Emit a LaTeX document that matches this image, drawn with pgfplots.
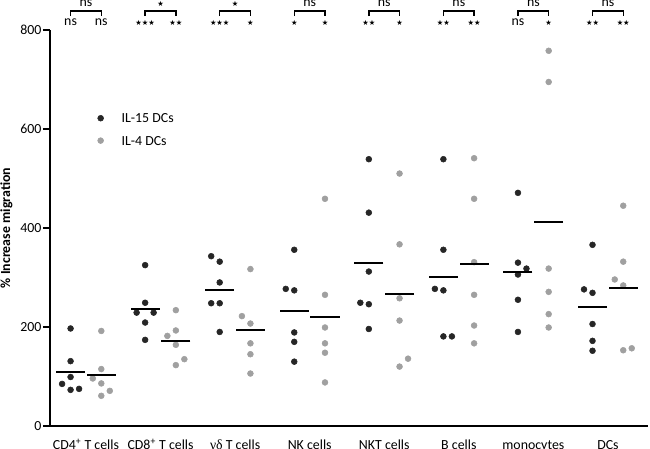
\documentclass[border=0pt]{standalone}
\usepackage{fontspec}
\setmainfont{Carlito}
\newfontfamily\grk{Liberation Serif}
\newfontfamily\djv{DejaVu Sans}
\usepackage{pgfplots}
\pgfplotsset{compat=1.18}
\definecolor{dk}{HTML}{262626}
\definecolor{gy}{HTML}{A0A0A0}
\newcommand{\fs}{\fontsize{10.4}{12}\selectfont}
\newcommand{\st}[1]{{\djv\fontsize{5.4}{6}\selectfont #1}}
\begin{document}
\begin{tikzpicture}
\begin{axis}[
  at={(37.5pt,17.25pt)}, anchor=south west,
  scale only axis, width=448.5pt, height=297pt,
  xmin=-0.483, xmax=7.537, ymin=0, ymax=800,
  axis x line=bottom, axis y line=left,
  axis line style={-, line width=1.5pt, black},
  xtick={0,1,2,3,4,5,6,7},
  xticklabels={CD4\textsuperscript{+} T cells, CD8\textsuperscript{+} T cells, {{\grk γδ} T cells}, NK cells, NKT cells, B cells, monocytes, DCs},
  x tick style={draw=none},
  xticklabel style={anchor=base, yshift=-12.5pt, font=\fs},
  ytick={0,200,400,600,800},
  y tick style={line width=1.5pt, black},
  major tick length=5.25pt, tick align=outside,
  yticklabel style={font=\fs, inner sep=1pt},
  /pgf/number format/assume math mode=true,
  ylabel={\bfseries \% Increase migration},
  ylabel style={font=\fs, anchor=center, at={(axis description cs:-0.0727,0.5)}},
  clip=false,
  legend style={draw=none, fill=none, inner sep=0pt, outer sep=0pt, font=\fs,
    at={(0.0798,0.789)}, anchor=north west, row sep=9.8pt,
    nodes={inner sep=0pt, text height=7pt, text depth=0pt},
    /tikz/every odd column/.append style={column sep=13.5pt}},
  legend cell align=left,
  legend image code/.code={\draw[#1] plot coordinates {(0pt,0pt)};},
]
% IL-15 DCs
\addplot[only marks, mark=*, mark size=2.2pt, color=dk] coordinates {
(-0.207,197) (-0.207,131) (-0.207,99) (-0.321,85) (-0.207,73) (-0.093,75)
(0.793,325) (0.793,249) (0.679,229) (0.907,229) (0.793,209) (0.793,174)
(1.679,343) (1.793,332) (1.793,290) (1.679,248) (1.793,248) (1.793,190)
(2.793,356) (2.679,277) (2.793,274) (2.793,189) (2.793,170) (2.793,130)
(3.793,539) (3.793,431) (3.793,312) (3.679,249) (3.793,246) (3.793,196)
(4.793,539) (4.793,356) (4.679,277) (4.793,274) (4.793,181) (4.907,181)
(5.793,471) (5.793,330) (5.907,318) (5.793,306) (5.793,255) (5.793,190)
(6.793,366) (6.679,276) (6.793,269) (6.793,206) (6.793,172) (6.793,152)
};
\addlegendentry{IL-15 DCs}
% IL-4 DCs
\addplot[only marks, mark=*, mark size=2.2pt, color=gy] coordinates {
(0.205,192) (0.205,115) (0.091,96) (0.205,86) (0.319,71) (0.205,61)
(1.205,234) (1.205,193) (1.091,182) (1.205,164) (1.319,135) (1.205,123)
(2.205,317) (2.091,222) (2.205,207) (2.205,167) (2.205,145) (2.205,106)
(3.205,459) (3.205,265) (3.205,199) (3.205,167) (3.205,148) (3.205,88)
(4.205,510) (4.205,367) (4.205,258) (4.205,213) (4.319,136) (4.205,120)
(5.205,541) (5.205,459) (5.205,331) (5.205,265) (5.205,203) (5.205,167)
(6.205,758) (6.205,695) (6.205,318) (6.205,271) (6.205,226) (6.205,199)
(7.205,445) (7.205,332) (7.091,296) (7.205,284) (7.205,153) (7.319,157)
};
\addlegendentry{IL-4 DCs}
% means
\addplot[forget plot, only marks, mark=-, mark size=10.9pt, mark options={line width=1.5pt, black}] coordinates {
(-0.207,110) (0.793,236) (1.793,275) (2.793,233) (3.793,329) (4.793,302) (5.793,312) (6.793,241)
(0.205,104) (1.205,172) (2.205,193) (3.205,221) (4.205,267) (5.205,327) (6.205,412) (7.205,278)
};
% significance brackets
\pgfplotsinvokeforeach{-0.207,0.793,1.793,2.793,3.793,4.793,5.793,6.793}{
  \draw[line width=1.1pt, black] (axis cs:#1,828) -- (axis cs:#1,838.4) -- (axis cs:#1+0.412,838.4) -- (axis cs:#1+0.412,828);
}
\node[font=\fs, anchor=base, inner sep=0pt] at (axis cs:-0.207,810) {ns};
\node[font=\fs, anchor=base, inner sep=0pt] at (axis cs:0.205,810) {ns};
\node[font=\fs, anchor=base, inner sep=0pt] at (axis cs:0,847) {ns};
\node[font=\fs, anchor=base, inner sep=0pt] at (axis cs:0.793,810) {\st{★★★}};
\node[font=\fs, anchor=base, inner sep=0pt] at (axis cs:1.205,810) {\st{★★}};
\node[font=\fs, anchor=base, inner sep=0pt] at (axis cs:1,847) {\st{★}};
\node[font=\fs, anchor=base, inner sep=0pt] at (axis cs:1.793,810) {\st{★★★}};
\node[font=\fs, anchor=base, inner sep=0pt] at (axis cs:2.205,810) {\st{★}};
\node[font=\fs, anchor=base, inner sep=0pt] at (axis cs:2,847) {\st{★}};
\node[font=\fs, anchor=base, inner sep=0pt] at (axis cs:2.793,810) {\st{★}};
\node[font=\fs, anchor=base, inner sep=0pt] at (axis cs:3.205,810) {\st{★}};
\node[font=\fs, anchor=base, inner sep=0pt] at (axis cs:3,847) {ns};
\node[font=\fs, anchor=base, inner sep=0pt] at (axis cs:3.793,810) {\st{★★}};
\node[font=\fs, anchor=base, inner sep=0pt] at (axis cs:4.205,810) {\st{★}};
\node[font=\fs, anchor=base, inner sep=0pt] at (axis cs:4,847) {ns};
\node[font=\fs, anchor=base, inner sep=0pt] at (axis cs:4.793,810) {\st{★★}};
\node[font=\fs, anchor=base, inner sep=0pt] at (axis cs:5.205,810) {\st{★★}};
\node[font=\fs, anchor=base, inner sep=0pt] at (axis cs:5,847) {ns};
\node[font=\fs, anchor=base, inner sep=0pt] at (axis cs:5.793,810) {ns};
\node[font=\fs, anchor=base, inner sep=0pt] at (axis cs:6.205,810) {\st{★}};
\node[font=\fs, anchor=base, inner sep=0pt] at (axis cs:6,847) {ns};
\node[font=\fs, anchor=base, inner sep=0pt] at (axis cs:6.793,810) {\st{★★}};
\node[font=\fs, anchor=base, inner sep=0pt] at (axis cs:7.205,810) {\st{★★}};
\node[font=\fs, anchor=base, inner sep=0pt] at (axis cs:7,847) {ns};
\end{axis}
\pgfresetboundingbox
\path[use as bounding box] (0,0) rectangle (487.5pt,336.75pt);
\end{tikzpicture}
\end{document}
